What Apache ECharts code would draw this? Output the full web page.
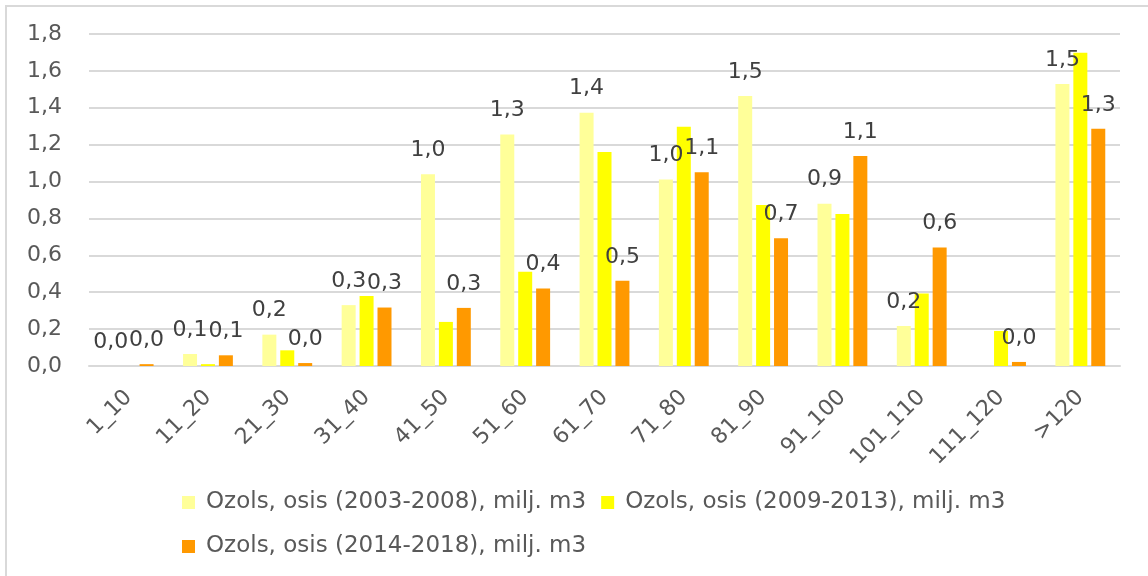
<!DOCTYPE html>
<html>
<head>
<meta charset="utf-8">
<script src="https://cdn.jsdelivr.net/npm/echarts@6/dist/echarts.min.js"></script>
<style>
html,body{margin:0;padding:0;background:#fff;}
#chart{width:1148px;height:576px;}
</style>
</head>
<body>
<div id="chart"></div>
<script>
const categories = ['1_10','11_20','21_30','31_40','41_50','51_60','61_70','71_80','81_90','91_100','101_110','111_120','>120'];
const seriesNames = ['Ozols, osis (2003-2008), milj. m3','Ozols, osis (2009-2013), milj. m3','Ozols, osis (2014-2018), milj. m3'];
const s2003 = [0, 0.065, 0.17, 0.33, 1.04, 1.255, 1.373, 1.011, 1.464, 0.88, 0.217, null, 1.529];
const s2009 = [0, 0.01, 0.085, 0.379, 0.239, 0.511, 1.16, 1.297, 0.873, 0.824, 0.393, 0.19, 1.698];
const s2014 = [0.01, 0.058, 0.016, 0.317, 0.315, 0.42, 0.462, 1.05, 0.692, 1.138, 0.643, 0.022, 1.286];
const yTicks = {min: 0, max: 1.8, interval: 0.2};
const colors = ['#FFFF99', '#FFFF00', '#FF9900'];

const fmt = v => (Math.round(v * 10) / 10).toFixed(1).replace('.', ',');
const numFont = 'DejaVu Sans';
const txtFont = 'DejaVu Sans';

const labelCfg = {
  show: true, position: 'top', distance: 13,
  color: '#404040', fontFamily: numFont, fontSize: 22,
  formatter: p => fmt(p.value)
};

const chart = echarts.init(document.getElementById('chart'), null, {renderer: 'canvas'});
chart.setOption({
  animation: false,
  backgroundColor: '#fff',
  color: colors,
  graphic: [{
    type: 'rect', shape: {x: 6, y: 6, width: 1170, height: 600},
    style: {fill: 'none', stroke: '#d9d9d9', lineWidth: 2}, silent: true
  }],
  grid: {left: 89, right: 28, top: 34, bottom: 210, containLabel: false},
  legend: {
    left: 182, top: 488, width: 840, padding: 0,
    icon: 'rect', itemWidth: 13, itemHeight: 13, itemGap: 15,
    textStyle: {fontFamily: txtFont, fontSize: 23, color: '#595959', lineHeight: 29, padding: [0, 0, 0, 6]},
    data: seriesNames
  },
  xAxis: {
    type: 'category', data: categories,
    axisLine: {lineStyle: {color: '#d9d9d9', width: 2}},
    axisTick: {show: false},
    axisLabel: {rotate: 45, margin: 28, interval: 0, fontFamily: txtFont, fontSize: 22, color: '#595959'}
  },
  yAxis: {
    type: 'value', min: yTicks.min, max: yTicks.max, interval: yTicks.interval,
    axisLine: {show: false}, axisTick: {show: false},
    splitLine: {lineStyle: {color: '#d9d9d9', width: 2}},
    axisLabel: {margin: 27, fontFamily: numFont, fontSize: 22, color: '#595959', formatter: v => fmt(v)}
  },
  series: [
    {name: seriesNames[0], type: 'bar', data: s2003, barWidth: 14, barGap: '28%', label: labelCfg},
    {name: seriesNames[1], type: 'bar', data: s2009, barWidth: 14, barGap: '28%'},
    {name: seriesNames[2], type: 'bar', data: s2014, barWidth: 14, barGap: '28%', label: labelCfg}
  ]
});
</script>
</body>
</html>
